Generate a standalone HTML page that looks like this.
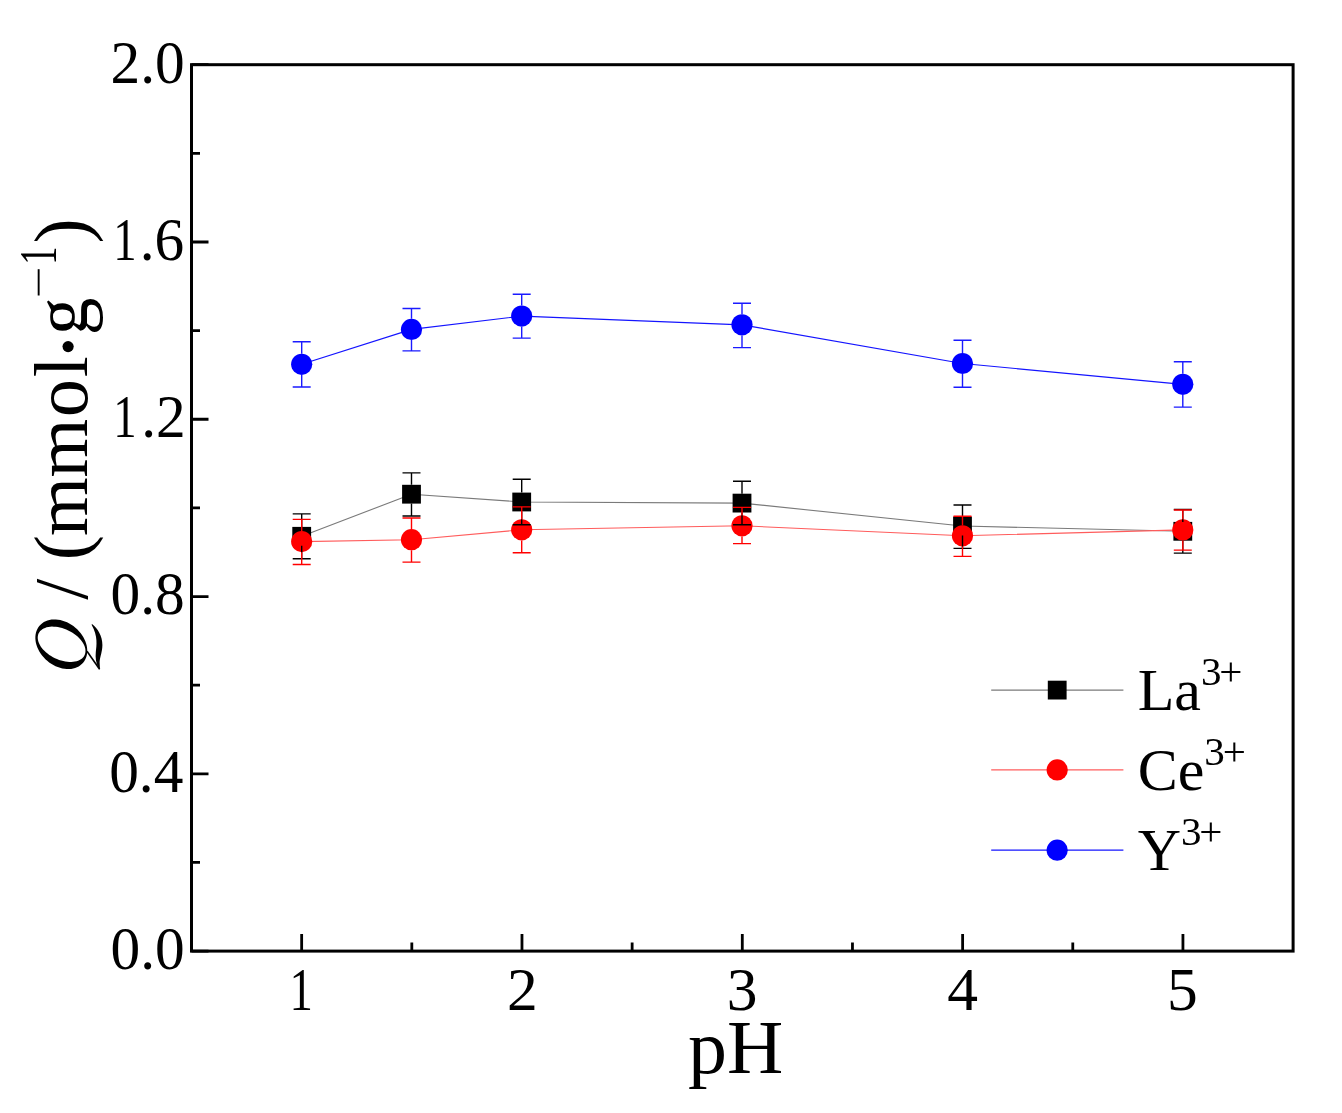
<!DOCTYPE html><html><head><meta charset="utf-8"><style>html,body{margin:0;padding:0;background:#fff;overflow:hidden}svg{display:block;will-change:transform}text{font-family:"Liberation Serif",serif;fill:#000}</style></head><body>
<svg width="1342" height="1113" viewBox="0 0 1342 1113">
<rect width="1342" height="1113" fill="#fff"/>
<polyline points="301.70,536.30 411.50,494.20 521.70,502.00 742.00,503.10 962.50,526.00 1182.80,531.30" fill="none" stroke="#7a7a7a" stroke-width="1.1" stroke-linejoin="round"/>
<rect x="292.30" y="526.90" width="18.80" height="18.80" fill="#000"/>
<rect x="402.10" y="484.80" width="18.80" height="18.80" fill="#000"/>
<rect x="512.30" y="492.60" width="18.80" height="18.80" fill="#000"/>
<rect x="732.60" y="493.70" width="18.80" height="18.80" fill="#000"/>
<rect x="953.10" y="516.60" width="18.80" height="18.80" fill="#000"/>
<rect x="1173.40" y="521.90" width="18.80" height="18.80" fill="#000"/>
<polyline points="301.70,541.60 411.50,539.70 521.70,529.80 742.00,525.80 962.50,535.80 1182.80,529.90" fill="none" stroke="#ff5c5c" stroke-width="1.1" stroke-linejoin="round"/>
<circle cx="301.70" cy="541.60" r="10.6" fill="#f00"/>
<circle cx="411.50" cy="539.70" r="10.6" fill="#f00"/>
<circle cx="521.70" cy="529.80" r="10.6" fill="#f00"/>
<circle cx="742.00" cy="525.80" r="10.6" fill="#f00"/>
<circle cx="962.50" cy="535.80" r="10.6" fill="#f00"/>
<circle cx="1182.80" cy="529.90" r="10.6" fill="#f00"/>
<polyline points="301.70,364.30 411.50,329.40 521.70,316.10 742.00,324.80 962.50,363.50 1182.80,384.30" fill="none" stroke="#1414ff" stroke-width="1.2" stroke-linejoin="round"/>
<circle cx="301.70" cy="364.30" r="10.6" fill="#00f"/>
<circle cx="411.50" cy="329.40" r="10.6" fill="#00f"/>
<circle cx="521.70" cy="316.10" r="10.6" fill="#00f"/>
<circle cx="742.00" cy="324.80" r="10.6" fill="#00f"/>
<circle cx="962.50" cy="363.50" r="10.6" fill="#00f"/>
<circle cx="1182.80" cy="384.30" r="10.6" fill="#00f"/>
<path d="M301.70,526.90V513.90M292.70,513.90H310.70M301.70,545.70V558.70M292.70,558.70H310.70M411.50,484.80V472.90M402.50,472.90H420.50M411.50,503.60V516.00M402.50,516.00H420.50M521.70,492.60V479.20M512.70,479.20H530.70M521.70,511.40V524.70M512.70,524.70H530.70M742.00,493.70V481.30M733.00,481.30H751.00M742.00,512.50V524.70M733.00,524.70H751.00M962.50,516.60V505.00M953.50,505.00H971.50M962.50,535.40V548.40M953.50,548.40H971.50M1182.80,521.90V509.50M1173.80,509.50H1191.80M1182.80,540.70V553.10M1173.80,553.10H1191.80" fill="none" stroke="#000" stroke-width="1.4"/>
<path d="M301.70,531.00V519.40M292.70,519.40H310.70M301.70,552.20V564.50M292.70,564.50H310.70M411.50,529.10V518.00M402.50,518.00H420.50M411.50,550.30V562.10M402.50,562.10H420.50M521.70,519.20V506.90M512.70,506.90H530.70M521.70,540.40V552.80M512.70,552.80H530.70M742.00,515.20V507.40M733.00,507.40H751.00M742.00,536.40V543.60M733.00,543.60H751.00M962.50,525.20V516.30M953.50,516.30H971.50M962.50,546.40V556.40M953.50,556.40H971.50M1182.80,519.30V510.00M1173.80,510.00H1191.80M1182.80,540.50V550.10M1173.80,550.10H1191.80" fill="none" stroke="#f00" stroke-width="1.4"/>
<path d="M301.70,353.70V341.80M292.70,341.80H310.70M301.70,374.90V387.00M292.70,387.00H310.70M411.50,318.80V308.50M402.50,308.50H420.50M411.50,340.00V350.90M402.50,350.90H420.50M521.70,305.50V294.20M512.70,294.20H530.70M521.70,326.70V338.10M512.70,338.10H530.70M742.00,314.20V303.20M733.00,303.20H751.00M742.00,335.40V347.60M733.00,347.60H751.00M962.50,352.90V340.20M953.50,340.20H971.50M962.50,374.10V387.20M953.50,387.20H971.50M1182.80,373.70V361.80M1173.80,361.80H1191.80M1182.80,394.90V407.10M1173.80,407.10H1191.80" fill="none" stroke="#1a1aff" stroke-width="1.4"/>
<rect x="191.5" y="64.7" width="1101.60" height="886.40" fill="none" stroke="#000" stroke-width="3"/>
<path d="M191.5,951.10H208.5M191.5,862.46H200.0M191.5,773.82H208.5M191.5,685.18H200.0M191.5,596.54H208.5M191.5,507.90H200.0M191.5,419.26H208.5M191.5,330.62H200.0M191.5,241.98H208.5M191.5,153.34H200.0M191.5,64.70H208.5M301.66,951.1V934.1M411.82,951.1V942.6M521.98,951.1V934.1M632.14,951.1V942.6M742.30,951.1V934.1M852.46,951.1V942.6M962.62,951.1V934.1M1072.78,951.1V942.6M1182.94,951.1V934.1" stroke="#000" stroke-width="2.8" fill="none"/>
<text transform="translate(184.66,968.90) scale(0.965,1)" x="0" y="0" font-size="61.5" text-anchor="end">0.0</text>
<text transform="translate(183.33,791.62) scale(0.965,1)" x="0" y="0" font-size="61.5" text-anchor="end">0.4</text>
<text transform="translate(184.66,614.34) scale(0.965,1)" x="0" y="0" font-size="61.5" text-anchor="end">0.8</text>
<text transform="translate(185.67,437.06) scale(0.965,1)" x="0" y="0" font-size="61.5" text-anchor="end">.2</text>
<text transform="translate(125.50,437.06) scale(0.76,1)" x="-0.86" y="0" font-size="61.5" text-anchor="middle">1</text>
<text transform="translate(184.17,259.78) scale(0.965,1)" x="0" y="0" font-size="61.5" text-anchor="end">.6</text>
<text transform="translate(125.50,259.78) scale(0.76,1)" x="-0.86" y="0" font-size="61.5" text-anchor="middle">1</text>
<text transform="translate(184.66,82.50) scale(0.965,1)" x="0" y="0" font-size="61.5" text-anchor="end">2.0</text>
<text transform="translate(301.71,1009.70) scale(0.76,1)" x="-0.86" y="0" font-size="61.5" text-anchor="middle">1</text>
<text x="522.33" y="1009.7" font-size="61.5" text-anchor="middle">2</text>
<text x="742.03" y="1009.7" font-size="61.5" text-anchor="middle">3</text>
<text x="962.50" y="1009.7" font-size="61.5" text-anchor="middle">4</text>
<text x="1182.35" y="1009.7" font-size="61.5" text-anchor="middle">5</text>
<text transform="translate(688.1,1072.6) scale(1.025,1)" x="0" y="0" font-size="76">pH</text>
<g transform="translate(86.9,700.0) rotate(-90)">
<text y="0" font-size="75.6"><tspan x="100.30">/</tspan><tspan x="139.68">(</tspan><tspan x="163.91">m</tspan><tspan x="222.41">m</tspan><tspan x="283.12">o</tspan><tspan x="322.69">l</tspan><tspan x="364.65">g</tspan><tspan x="456.56">)</tspan></text>
<text transform="translate(435.20,-31.1) scale(0.70,1)" x="0" y="0" font-size="52.0">1</text>
</g>
<circle cx="68.1" cy="346.6" r="5.6" fill="#000"/>
<rect x="37.7" y="269.2" width="1.9" height="26.3" fill="#000"/>
<path fill="#000" fill-rule="evenodd" d="M83.11,662.75L81.80,664.12L80.34,665.35L78.73,666.41L76.99,667.31L75.12,668.03L73.16,668.56L71.10,668.92L68.97,669.08L66.78,669.06L64.54,668.85L62.29,668.45L60.02,667.86L57.77,667.10L55.54,666.16L53.36,665.06L51.23,663.80L49.19,662.39L47.23,660.84L45.38,659.16L43.66,657.37L42.07,655.49L40.62,653.51L39.33,651.47L38.21,649.37L37.27,647.23L36.50,645.07L35.93,642.90L35.55,640.74L35.36,638.61L35.38,636.52L35.59,634.50L35.99,632.54L36.59,630.68L37.38,628.91L38.34,627.27L39.49,625.75L40.80,624.38L42.26,623.15L43.87,622.09L45.61,621.19L47.48,620.47L49.44,619.94L51.50,619.58L53.63,619.42L55.82,619.44L58.06,619.65L60.31,620.05L62.58,620.64L64.83,621.40L67.06,622.34L69.24,623.44L71.37,624.70L73.41,626.11L75.37,627.66L77.22,629.34L78.94,631.13L80.53,633.01L81.98,634.99L83.27,637.03L84.39,639.13L85.33,641.27L86.10,643.43L86.67,645.60L87.05,647.76L87.24,649.89L87.22,651.98L87.01,654.00L86.61,655.96L86.01,657.82L85.22,659.59L84.26,661.23Z M84.53,655.23L83.86,656.40L83.03,657.48L82.03,658.46L80.88,659.33L79.58,660.08L78.14,660.72L76.58,661.23L74.90,661.61L73.12,661.86L71.26,661.98L69.32,661.96L67.32,661.81L65.28,661.52L63.21,661.10L61.13,660.56L59.05,659.89L56.99,659.10L54.97,658.20L53.00,657.19L51.09,656.09L49.26,654.90L47.53,653.62L45.90,652.28L44.40,650.87L43.02,649.41L41.78,647.92L40.70,646.40L39.78,644.86L39.02,643.32L38.43,641.78L38.02,640.26L37.79,638.78L37.74,637.34L37.87,635.94L38.18,634.62L38.67,633.37L39.34,632.20L40.17,631.12L41.17,630.14L42.32,629.27L43.62,628.52L45.06,627.88L46.62,627.37L48.30,626.99L50.08,626.74L51.94,626.62L53.88,626.64L55.88,626.79L57.92,627.08L59.99,627.50L62.07,628.04L64.15,628.71L66.21,629.50L68.23,630.40L70.20,631.41L72.11,632.51L73.94,633.70L75.67,634.98L77.30,636.32L78.80,637.73L80.18,639.19L81.42,640.68L82.50,642.20L83.42,643.74L84.18,645.28L84.77,646.82L85.18,648.34L85.41,649.82L85.46,651.26L85.33,652.66L85.02,653.98Z"/>
<path fill="#000" d="M92.0,624.0C97.5,628 102.5,636 102.4,645C102.3,652 100.2,656 99.6,662L100.0,669.8L98.6,668.0C96.0,663 95.2,658 95.8,652C96.5,646 98.2,636 91.6,624.8Z"/>
<path d="M87.0,651.2L99.6,669.2" stroke="#000" stroke-width="1.6" fill="none"/>
<line x1="991.2" y1="690.1" x2="1123.4" y2="690.1" stroke="#7a7a7a" stroke-width="1.1"/>
<rect x="1047.80" y="680.70" width="18.80" height="18.80" fill="#000"/>
<text x="1137.7" y="709.70" font-size="60">La<tspan font-size="41" dy="-24.5">3</tspan><tspan font-size="41" dx="-2.2">+</tspan></text>
<line x1="991.2" y1="769.9" x2="1123.4" y2="769.9" stroke="#ff5c5c" stroke-width="1.1"/>
<circle cx="1057.2" cy="769.9" r="10.6" fill="#f00"/>
<text x="1137.7" y="789.50" font-size="60">Ce<tspan font-size="41" dy="-24.5">3</tspan><tspan font-size="41" dx="-2.2">+</tspan></text>
<line x1="991.2" y1="850.2" x2="1123.4" y2="850.2" stroke="#1414ff" stroke-width="1.2"/>
<circle cx="1057.2" cy="850.2" r="10.6" fill="#00f"/>
<text x="1137.7" y="869.80" font-size="60">Y<tspan font-size="41" dy="-24.5">3</tspan><tspan font-size="41" dx="-2.2">+</tspan></text>
</svg></body></html>
